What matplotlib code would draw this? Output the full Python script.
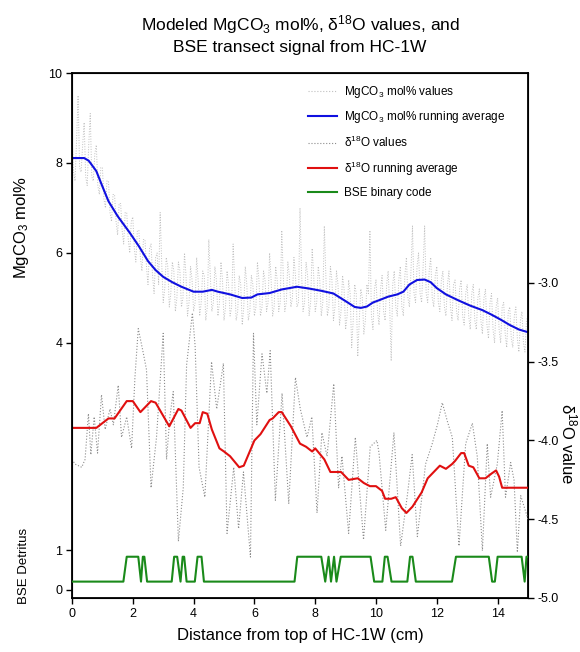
import numpy as np
import matplotlib
matplotlib.use('Agg')
import matplotlib.pyplot as plt
from matplotlib.lines import Line2D
from matplotlib.ticker import FormatStrFormatter

plt.rcParams['font.family'] = ['Liberation Sans', 'DejaVu Sans']
plt.rcParams['mathtext.fontset'] = 'custom'
plt.rcParams['mathtext.rm'] = 'Liberation Sans'
plt.rcParams['mathtext.it'] = 'Liberation Sans:italic'
plt.rcParams['axes.unicode_minus'] = False

# MgCO3 mol% values, read at 0.1 cm steps (0.0, 0.1, ... 15.0)
mg_vals_a = [8.6, 7.6, 9.5, 7.8, 8.9, 7.5, 9.1, 7.6, 8.4, 7.3,
             7.9, 7.0, 7.6, 6.7, 7.3, 6.4, 7.1, 6.2, 6.9, 6.0,
             6.8, 5.8, 6.5, 5.6, 6.3, 5.3, 6.2, 5.1, 6.0, 6.9,
             4.9, 5.9, 4.8, 5.8, 4.7, 5.8, 4.8, 6.0, 4.6, 5.7,
             4.7, 5.9, 4.6, 5.6, 4.5, 6.3, 4.7, 5.7, 4.6, 5.8,
             4.5, 5.6, 4.6, 6.2, 4.5, 5.5, 4.4, 5.7, 4.5, 5.5,
             4.6, 5.8, 4.6, 5.6, 4.7, 6.0, 4.6, 5.7, 4.7, 6.5,
             4.7, 5.8, 4.8, 5.9, 4.8, 7.0, 4.7, 5.8, 4.6, 6.1,
             4.7, 5.7, 4.6, 6.6, 4.6, 5.7, 4.5, 5.6, 4.4, 5.5,
             4.3, 5.4, 3.9, 5.3, 3.7, 5.2, 4.2, 5.3, 6.5, 4.3,
             5.4, 4.4, 5.5, 4.5, 5.6, 3.6, 5.6, 4.6, 5.7, 4.6,
             5.9, 4.8, 6.6, 4.9, 6.0, 4.9, 6.6, 4.9, 5.9, 4.8,
             5.7, 4.7, 5.6, 4.6, 5.6, 4.5, 5.4, 4.5, 5.4, 4.4,
             5.3, 4.3, 5.3, 4.3, 5.2, 4.2, 5.2, 4.1, 5.1, 4.0,
             5.0, 4.0, 4.9, 3.9, 4.8, 3.9, 4.8, 3.8, 4.7, 3.8,
             4.6]
# MgCO3 mol% values in between (0.05, 0.15, ... 14.95)
mg_vals_b = [7.8, 8.5, 7.9, 8.4, 7.7, 8.4, 7.7, 8.2, 7.5, 7.9,
             7.2, 7.6, 6.9, 7.3, 6.7, 7.1, 6.5, 6.9, 6.3, 6.7,
             6.1, 6.5, 5.9, 6.3, 5.7, 6.1, 5.5, 5.9, 5.3, 5.8,
             5.2, 5.7, 5.1, 5.6, 5.0, 5.6, 5.0, 5.5, 4.9, 5.4,
             4.9, 5.4, 4.9, 5.5, 4.8, 5.5, 4.9, 5.4, 4.9, 5.4,
             4.8, 5.3, 4.8, 5.4, 4.7, 5.3, 4.8, 5.3, 4.7, 5.3,
             4.8, 5.4, 4.8, 5.4, 4.9, 5.4, 4.8, 5.4, 4.9, 5.5,
             4.9, 5.5, 5.0, 5.5, 4.9, 5.6, 4.9, 5.5, 4.9, 5.5,
             4.9, 5.4, 4.9, 5.5, 4.8, 5.4, 4.8, 5.3, 4.7, 5.2,
             4.6, 5.1, 4.5, 5.1, 4.5, 5.0, 4.5, 5.1, 4.6, 5.2,
             4.7, 5.2, 4.7, 5.3, 4.8, 5.3, 4.8, 5.4, 4.8, 5.5,
             5.0, 5.6, 5.1, 5.7, 5.1, 5.7, 5.1, 5.6, 5.0, 5.5,
             4.9, 5.4, 4.8, 5.3, 4.8, 5.3, 4.7, 5.2, 4.6, 5.1,
             4.6, 5.1, 4.5, 5.0, 4.5, 5.0, 4.4, 4.9, 4.3, 4.8,
             4.3, 4.8, 4.2, 4.7, 4.1, 4.6, 4.1, 4.5, 4.0, 4.5]

# MgCO3 running average
mg_avg_x = [0, 0.4, 0.55, 0.8, 1.0, 1.2, 1.5, 1.9, 2.2, 2.5, 2.75, 3.0, 3.3,
            3.6, 4.0, 4.3, 4.6, 4.8, 5.2, 5.6, 5.9, 6.1, 6.5, 6.9, 7.4, 7.8,
            8.2, 8.6, 9.0, 9.3, 9.5, 9.7, 9.9, 10.1, 10.4, 10.7, 10.9, 11.1,
            11.35, 11.6, 11.8, 12.0, 12.3, 12.7, 13.1, 13.5, 13.8, 14.1, 14.4,
            14.7, 15.0]
mg_avg = [8.11, 8.11, 8.05, 7.82, 7.48, 7.15, 6.82, 6.45, 6.15, 5.82, 5.62,
          5.47, 5.35, 5.25, 5.14, 5.14, 5.18, 5.14, 5.08, 5.00, 5.01, 5.08,
          5.11, 5.19, 5.25, 5.21, 5.16, 5.10, 4.93, 4.80, 4.78, 4.81, 4.90,
          4.95, 5.03, 5.08, 5.14, 5.30, 5.40, 5.41, 5.35, 5.22, 5.08, 4.95,
          4.83, 4.73, 4.63, 4.52, 4.40, 4.30, 4.24]

# d18O values
d18_x = [0.0, 0.10, 0.32, 0.43, 0.54, 0.62, 0.73, 0.84, 0.97, 1.09, 1.25,
         1.36, 1.52, 1.63, 1.80, 1.96, 2.07, 2.18, 2.35, 2.45, 2.60, 2.78,
         3.00, 3.11, 3.22, 3.33, 3.50, 3.66, 3.77, 3.96, 4.05, 4.18, 4.37,
         4.59, 4.76, 4.98, 5.10, 5.32, 5.48, 5.64, 5.87, 5.97, 6.08, 6.25,
         6.41, 6.52, 6.69, 6.91, 7.13, 7.35, 7.51, 7.73, 7.89, 8.06, 8.22,
         8.39, 8.61, 8.77, 8.88, 9.10, 9.32, 9.59, 9.81, 10.03, 10.10, 10.32,
         10.59, 10.81, 11.03, 11.19, 11.36, 11.63, 11.85, 12.02, 12.18, 12.35,
         12.51, 12.73, 12.95, 13.17, 13.33, 13.50, 13.66, 13.77, 13.99, 14.15,
         14.26, 14.43, 14.54, 14.65, 14.76, 15.0]
d18_vals = [-4.12, -4.15, -4.17, -4.12, -3.83, -4.09, -3.85, -4.08, -3.71, -3.93,
            -3.80, -3.90, -3.65, -3.98, -3.85, -4.05, -3.60, -3.29, -3.45, -3.55,
            -4.30, -3.98, -3.32, -4.12, -3.85, -3.69, -4.64, -4.30, -3.52, -3.19,
            -3.40, -4.17, -4.36, -3.50, -3.80, -3.51, -4.59, -4.17, -4.56, -4.20,
            -4.74, -3.32, -3.90, -3.45, -3.70, -3.43, -4.38, -3.70, -4.40, -3.60,
            -3.80, -3.98, -3.85, -4.46, -3.95, -4.10, -3.64, -4.30, -4.10, -4.59,
            -3.98, -4.63, -4.04, -4.00, -4.08, -4.57, -3.95, -4.67, -4.35, -4.09,
            -4.61, -4.15, -4.02, -3.90, -3.76, -3.88, -3.98, -4.67, -4.02, -3.89,
            -4.10, -4.70, -4.02, -4.36, -4.15, -3.81, -4.36, -4.14, -4.25, -4.71,
            -4.35, -4.50]

# d18O running average
d18_avg_x = [0, 0.8, 1.2, 1.4, 1.8, 2.0, 2.25, 2.6, 2.75, 3.2, 3.5, 3.6, 3.9,
             4.05, 4.2, 4.3, 4.45, 4.6, 4.85, 5.0, 5.2, 5.5, 5.65, 6.0, 6.2, 6.5,
             6.6, 6.8, 6.9, 7.2, 7.5, 7.7, 7.9, 8.0, 8.3, 8.5, 8.7, 8.85, 9.1,
             9.4, 9.6, 9.8, 10.0, 10.2, 10.3, 10.5, 10.65, 10.85, 11.0, 11.2,
             11.5, 11.7, 11.9, 12.1, 12.3, 12.5, 12.6, 12.8, 12.9, 13.05, 13.2,
             13.4, 13.6, 13.8, 13.95, 14.05, 14.15, 15.0]
d18_avg = [-3.92, -3.92, -3.86, -3.86, -3.75, -3.75, -3.82, -3.75, -3.76, -3.91,
           -3.80, -3.81, -3.92, -3.89, -3.89, -3.82, -3.83, -3.93, -4.05, -4.07,
           -4.10, -4.17, -4.16, -4.00, -3.96, -3.87, -3.86, -3.82, -3.82, -3.91,
           -4.02, -4.04, -4.07, -4.05, -4.12, -4.20, -4.20, -4.20, -4.25, -4.24,
           -4.27, -4.29, -4.29, -4.32, -4.37, -4.37, -4.36, -4.43, -4.46, -4.42,
           -4.33, -4.24, -4.20, -4.16, -4.18, -4.15, -4.13, -4.08, -4.08, -4.16,
           -4.17, -4.24, -4.24, -4.21, -4.19, -4.23, -4.30, -4.30]

# BSE binary code (plotted levels)
bse_x = [0, 1.69, 1.80, 2.18, 2.27, 2.33, 2.38, 2.47, 3.28, 3.36, 3.46, 3.57,
         3.64, 3.69, 3.77, 4.04, 4.13, 4.26, 4.34, 7.32, 7.41, 8.20, 8.33, 8.44,
         8.52, 8.62, 8.70, 8.84, 9.82, 9.94, 10.21, 10.29, 10.38, 10.51, 11.03,
         11.12, 11.20, 11.31, 12.50, 12.63, 13.71, 13.82, 13.91, 14.00, 14.79,
         14.89, 14.95, 15.0]
bse_vals = [0.2, 0.2, 0.83, 0.83, 0.2, 0.83, 0.83, 0.2, 0.2, 0.83, 0.83, 0.2,
            0.83, 0.83, 0.2, 0.2, 0.83, 0.83, 0.2, 0.2, 0.83, 0.83, 0.2, 0.83,
            0.2, 0.83, 0.2, 0.83, 0.83, 0.2, 0.2, 0.83, 0.83, 0.2, 0.2, 0.83,
            0.83, 0.2, 0.2, 0.83, 0.83, 0.2, 0.2, 0.83, 0.83, 0.2, 0.83, 0.83]

mg_ticks = [4, 6, 8, 10]
d18_ticks = [-5.0, -4.5, -4.0, -3.5, -3.0]
bse_ticks = [0, 1]
x_ticks = [0, 2, 4, 6, 8, 10, 12, 14]

# interleave the two MgCO3 samplings into one series
mg_x = np.round(np.arange(len(mg_vals_a) + len(mg_vals_b)) * 0.05, 2)
mg_vals = np.empty(len(mg_x))
mg_vals[0::2] = mg_vals_a
mg_vals[1::2] = mg_vals_b

fig = plt.figure(figsize=(5.8, 6.52), dpi=100)
ax = fig.add_axes([72 / 580, 1 - 598 / 652, 456 / 580, 525 / 652])
ax_d = ax.twinx()
ax_b = ax.twinx()

ax.plot(mg_x, mg_vals, color='#c0c0c0', lw=0.7, ls=':')
ax.plot(mg_avg_x, mg_avg, color='#1010e0', lw=1.5)
ax_d.plot(d18_x, d18_vals, color='#8c8c8c', lw=0.8, ls=':')
ax_d.plot(d18_avg_x, d18_avg, color='#e01010', lw=1.5)
ax_b.plot(bse_x, bse_vals, color='#1a8a1a', lw=1.5)

ax.set_xlim(0, 15)
ax.set_ylim(-1.667, 10)
ax_d.set_ylim(-5.0, -1.667)
ax_b.set_ylim(-0.215, 13.08)

ax.set_xticks(x_ticks)
ax.set_yticks(mg_ticks)
ax_d.set_yticks(d18_ticks)
ax_d.yaxis.set_major_formatter(FormatStrFormatter('%.1f'))
ax_b.set_yticks(bse_ticks)
ax_b.yaxis.tick_left()
for s in ax_b.spines.values():
    s.set_visible(False)

for a in (ax, ax_d, ax_b):
    a.tick_params(direction='out', length=4, width=1, labelsize=9, pad=3)
for s in ax.spines.values():
    s.set_linewidth(1.3)

ax.set_xlabel('Distance from top of HC-1W (cm)', fontsize=12, labelpad=6)
fig.text(22 / 580, 1 - 228 / 652, 'MgCO$_3$ mol%', rotation=90,
         ha='center', va='center', fontsize=12)
fig.text(24 / 580, 1 - 566 / 652, 'BSE Detritus', rotation=90,
         ha='center', va='center', fontsize=9.5)
fig.text(569 / 580, 1 - 444 / 652, 'δ$^{18}$O value', rotation=270,
         ha='center', va='center', fontsize=12)
fig.text(300 / 580, 1 - 34 / 652,
         'Modeled MgCO$_3$ mol%, δ$^{18}$O values, and\nBSE transect signal from HC-1W',
         ha='center', va='center', fontsize=12.5, linespacing=1.3)

handles = [Line2D([], [], color='#c0c0c0', lw=0.8, ls=':'),
           Line2D([], [], color='#1010e0', lw=1.5),
           Line2D([], [], color='#8c8c8c', lw=0.8, ls=':'),
           Line2D([], [], color='#e01010', lw=1.5),
           Line2D([], [], color='#1a8a1a', lw=1.5)]
labels = ['MgCO$_3$ mol% values', 'MgCO$_3$ mol% running average',
          'δ$^{18}$O values', 'δ$^{18}$O running average', 'BSE binary code']
ax_b.legend(handles, labels, loc='upper left', bbox_to_anchor=(0.5, 0.995),
            frameon=False, fontsize=8.5, handlelength=2.4, handletextpad=0.6,
            labelspacing=0.8, borderpad=0.2)

fig.savefig('out.png', dpi=100)
